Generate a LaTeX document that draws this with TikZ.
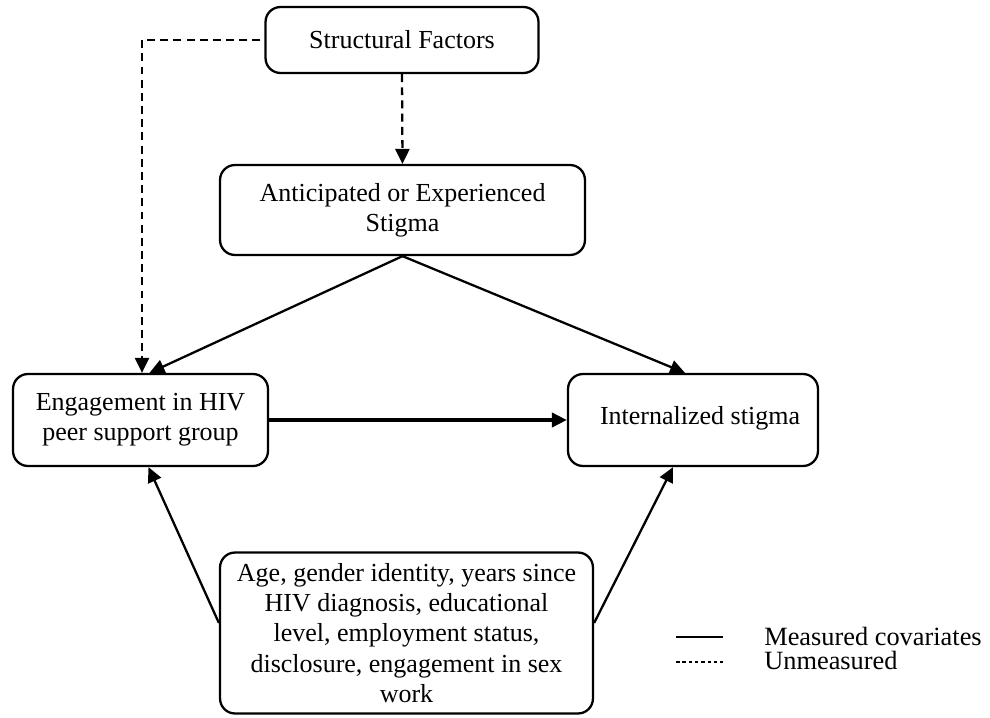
\documentclass[tikz,border=0pt]{standalone}
\usepackage{fontspec}
\setmainfont{Liberation Serif}
\usetikzlibrary{arrows.meta,calc}
\begin{document}
\begin{tikzpicture}[x=0.02cm,y=-0.02cm,
  box/.style={draw,line width=1.3pt,rounded corners=0.3cm,align=center,inner sep=2pt,
    font=\fontsize{14.8}{17.2}\selectfont},
  conn/.style={line width=1.3pt,-{Triangle[length=8.5pt,width=8pt]}},
  unm/.style={conn,dash pattern=on 4.5pt off 3pt},
  legtext/.style={anchor=base west,inner sep=0pt,font=\fontsize{15}{17}\selectfont}]
\useasboundingbox (0,0) rectangle (990,717);
\node[box,minimum width=5.46cm,minimum height=1.32cm] (sf) at (402,40) {Structural Factors};
\node[box,minimum width=7.3cm,minimum height=1.8cm] (as) at (402.5,210) {Anticipated or Experienced\\Stigma};
\node[box,minimum width=5.1cm,minimum height=1.84cm] (eng) at (140.5,420) {Engagement in HIV\\peer support group};
\node[box,minimum width=5cm,minimum height=1.84cm] (int) at (693,420) {\raisebox{5pt}{\hspace*{8pt}Internalized stigma}};
\node[box,minimum width=7.46cm,minimum height=3.22cm] (cov) at (406.5,633) {Age, gender identity, years since\\HIV diagnosis, educational\\level, employment status,\\disclosure, engagement in sex\\work};
% connectors
\draw[unm] (sf.south) -- (as.north);
\draw[unm] ($(sf.west)+(-4,0)$) -| ($(eng.north)+(1.5,0)$);
\draw[conn] (as.south) -- ($(eng.north)+(9,0)$);
\draw[conn] (as.south) -- ($(int.north)+(-8,0)$);
\draw[conn,line width=2pt] (eng.east) -- (int.west);
\draw[conn] ($(cov.west)+(0,-10)$) -- ($(eng.south)+(8,0)$);
\draw[conn] ($(cov.east)+(0,-10)$) -- ($(int.south)+(-20,0)$);
% legend
\coordinate (l1a) at (676,637); \coordinate (l1b) at (723,637);
\coordinate (l2a) at (676,662); \coordinate (l2b) at (723,662);
\draw[line width=0.7pt] (l1a) -- (l1b);
\draw[line width=0.7pt,dash pattern=on 2pt off 1.6pt] (l2a) -- (l2b);
\node[legtext] (m) at (764,645) {Measured covariates};
\node[legtext] (u) at (764,669) {Unmeasured};
\end{tikzpicture}
\end{document}
